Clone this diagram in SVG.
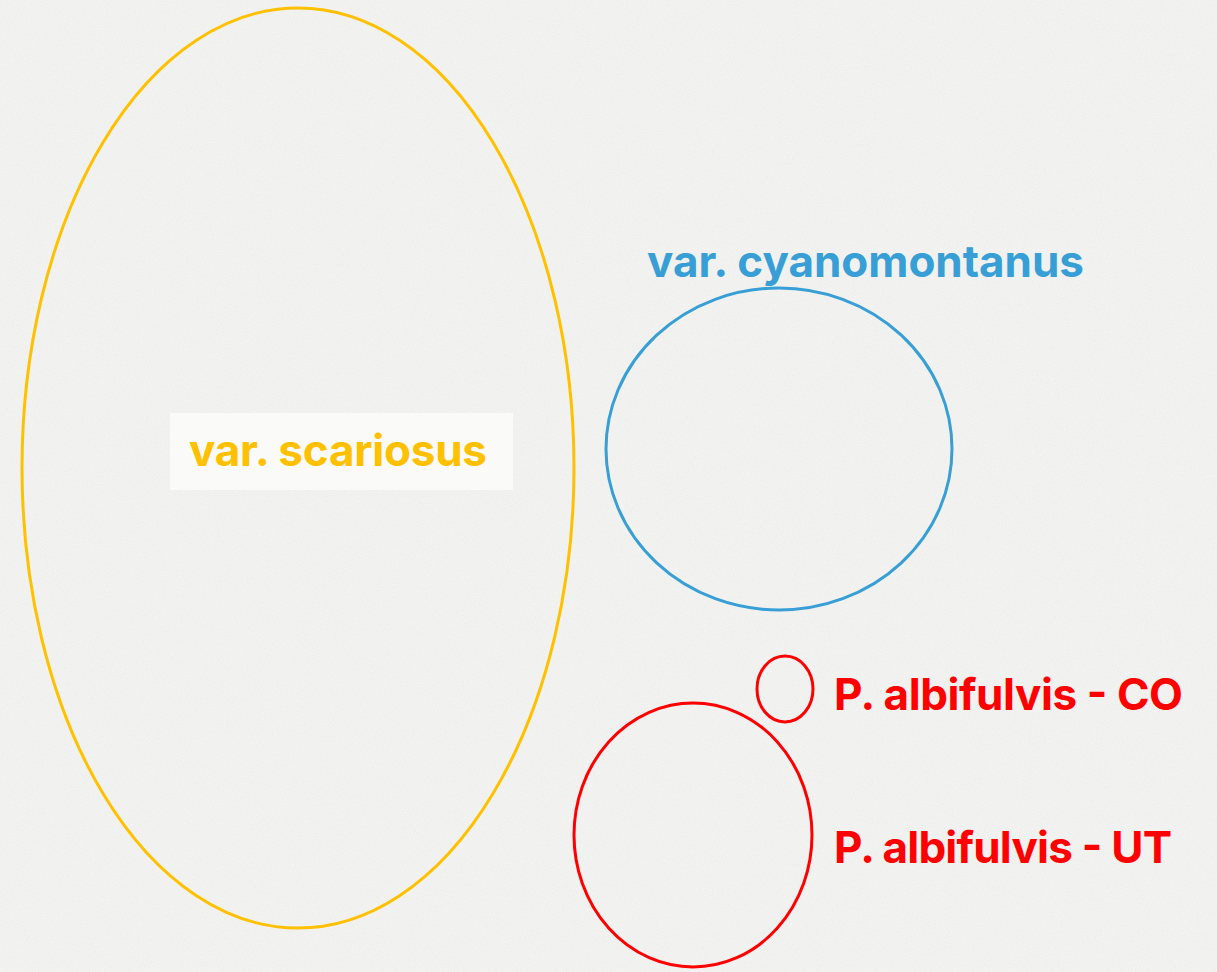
<svg xmlns="http://www.w3.org/2000/svg" width="1217" height="972" viewBox="0 0 1217 972">
<style>
.lbl{font-family:Inter,Roboto,"Liberation Sans",sans-serif;font-weight:bold;font-size:44px}
.ring{fill:none;stroke-width:3}
</style>
<defs>
<filter id="grain" x="0" y="0" width="100%" height="100%">
<feTurbulence type="fractalNoise" baseFrequency="0.9" numOctaves="2" seed="3"/>
<feColorMatrix type="matrix" values="0 0 0 0 0.5  0 0 0 0 0.5  0 0 0 0 0.5  0 0 0 0.5 0"/>
</filter>
</defs>
<rect width="1217" height="972" fill="#f6f6f5"/>
<rect width="1217" height="972" filter="url(#grain)" opacity="0.35"/>
<g id="scariosus">
<ellipse class="ring" cx="298" cy="468" rx="276" ry="460" stroke="#ffc000"/>
<rect x="170" y="413" width="343" height="77" fill="#fafaf9"/>
<text class="lbl" x="189" y="466" fill="#ffc000" textLength="298">var. scariosus</text>
</g>
<g id="cyanomontanus">
<ellipse class="ring" cx="779" cy="449" rx="173" ry="161" stroke="#379fd5"/>
<text class="lbl" x="647" y="277" fill="#379fd5" textLength="437">var. cyanomontanus</text>
</g>
<g id="albifulvis-co">
<ellipse class="ring" cx="785" cy="689" rx="28" ry="33" stroke="#ff0000"/>
<text class="lbl" x="834" y="710" fill="#ff0000" textLength="349">P. albifulvis - CO</text>
</g>
<g id="albifulvis-ut">
<ellipse class="ring" cx="693" cy="835" rx="119" ry="132" stroke="#ff0000"/>
<text class="lbl" x="834" y="863" fill="#ff0000" textLength="338">P. albifulvis - UT</text>
</g>
<g id="connectors"/>
</svg>
